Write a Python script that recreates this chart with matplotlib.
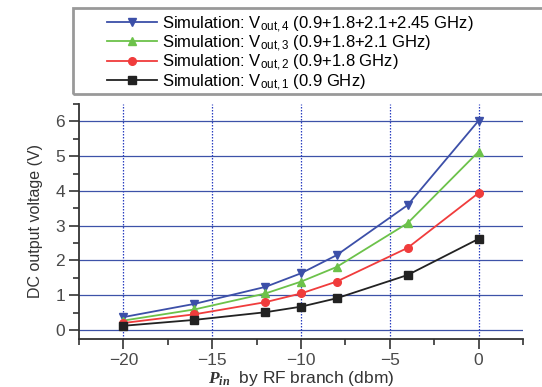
import numpy as np
import matplotlib
matplotlib.use('Agg')
from matplotlib import pyplot as plt
from matplotlib.patches import Rectangle
from matplotlib.ticker import MultipleLocator

plt.rcParams['font.family'] = ['Liberation Sans', 'DejaVu Sans']
plt.rcParams['mathtext.fontset'] = 'custom'
plt.rcParams['mathtext.rm'] = 'Liberation Sans'
plt.rcParams['mathtext.it'] = 'Liberation Serif:italic:bold'

## Data
pin = [-20, -16, -12, -10, -8, -4, 0]
v_out4 = [0.37, 0.75, 1.24, 1.63, 2.15, 3.59, 6.02]
v_out3 = [0.27, 0.59, 1.05, 1.39, 1.81, 3.07, 5.13]
v_out2 = [0.20, 0.45, 0.80, 1.05, 1.39, 2.36, 3.94]
v_out1 = [0.12, 0.29, 0.51, 0.67, 0.91, 1.58, 2.62]

labels = [r'Simulation: V$_{\mathrm{out,4}}$ (0.9+1.8+2.1+2.45 GHz)',
          r'Simulation: V$_{\mathrm{out,3}}$ (0.9+1.8+2.1 GHz)',
          r'Simulation: V$_{\mathrm{out,2}}$ (0.9+1.8 GHz)',
          r'Simulation: V$_{\mathrm{out,1}}$ (0.9 GHz)']

#%%
fig = plt.figure(figsize=(5.42, 3.87), dpi=100)
ax = fig.add_axes([79/542, 1-339/387, 444/542, 235/387])

gridc = '#3d52a8'
ax.set_xlim(-22.5, 2.5)
ax.set_ylim(-0.26, 6.5)
for yv in range(0, 7):
    ax.axhline(yv, color=gridc, lw=0.9, zorder=1)
for xv in range(-20, 1, 5):
    ax.axvline(xv, color='#2a3fc0', lw=0.9, ls=(0, (1.2, 1.2)), zorder=1)

ax.plot(pin, v_out4, '-v', color='#3c4fa8', lw=1.3, ms=6, label=labels[0], zorder=3)
ax.plot(pin, v_out3, '-^', color='#6cc24a', lw=1.3, ms=6, label=labels[1], zorder=3)
ax.plot(pin, v_out2, '-o', color='#f03c3c', lw=1.3, ms=5.5, label=labels[2], zorder=3)
ax.plot(pin, v_out1, '-s', color='#222222', lw=1.3, ms=5.5, label=labels[3], zorder=3)

ax.xaxis.set_major_locator(MultipleLocator(5))
ax.xaxis.set_minor_locator(MultipleLocator(2.5))
ax.yaxis.set_major_locator(MultipleLocator(1))
ax.yaxis.set_minor_locator(MultipleLocator(0.5))
ax.spines['top'].set_visible(False)
ax.spines['right'].set_visible(False)
for s in ['left', 'bottom']:
    ax.spines[s].set_color('#333333')
    ax.spines[s].set_linewidth(1.3)
ax.tick_params(which='major', length=7, width=1.2, color='#333333',
               labelsize=12.5, labelcolor='#4a4a4a', pad=3)
ax.tick_params(which='minor', length=4, width=1.2, color='#333333')

ax.set_ylabel('DC output voltage (V)', fontsize=11.5, color='#333333', labelpad=9)
ax.set_xlabel(r'$P_{in}$  by RF branch (dbm)', fontsize=12.5, color='#333333', labelpad=1)

# legend box
fig.patches.append(Rectangle((73/542, 1-94/387), 475/542, 86/387, transform=fig.transFigure,
                             fill=False, ec='#999999', lw=2))
fig.legend(loc='upper left', bbox_to_anchor=(107/542, 1-14/387), frameon=False,
           fontsize=12, handlelength=3.0, handletextpad=0.3, labelspacing=-0.05,
           borderpad=0, borderaxespad=0)

plt.savefig('out.png', dpi=100)
